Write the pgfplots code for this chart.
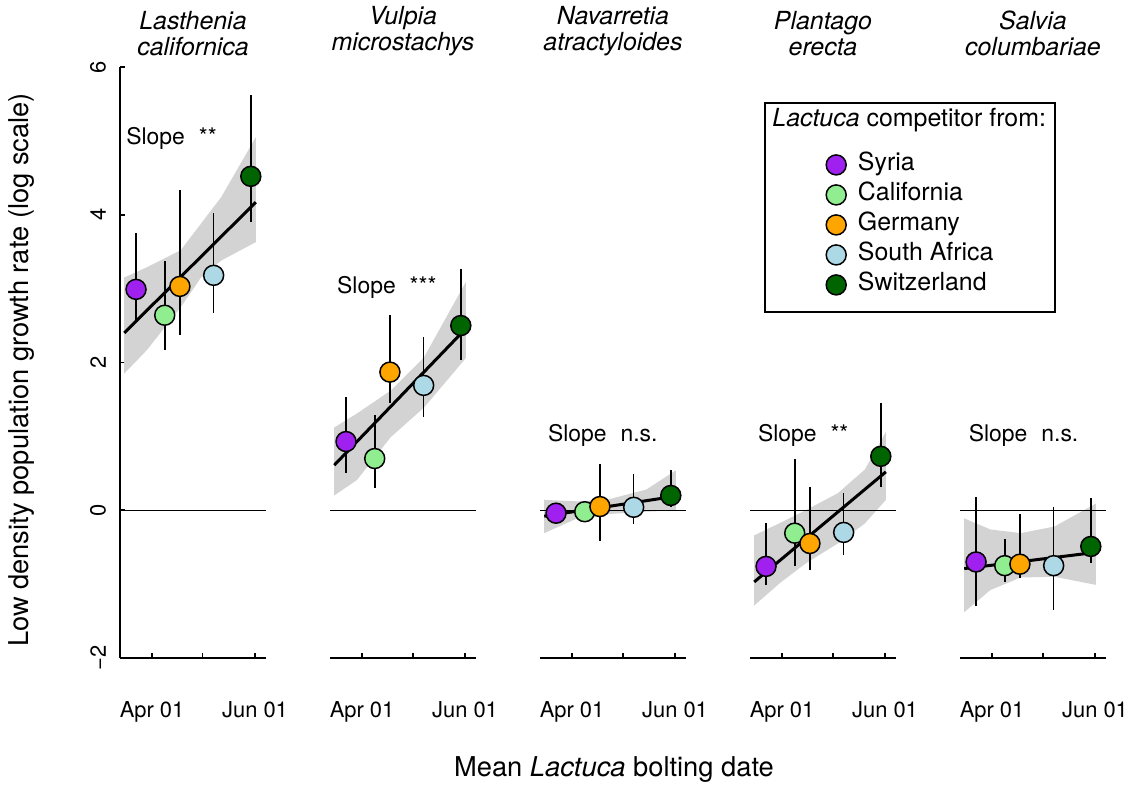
\documentclass[border=0pt]{standalone}
\usepackage{pgfplots}
\pgfplotsset{compat=1.18}
\usepackage{pgfplotstable}
\usepackage{fontspec}
\setmainfont{TeX Gyre Heros}

\definecolor{csy}{HTML}{A020F0}
\definecolor{cca}{HTML}{90EE90}
\definecolor{cge}{HTML}{FFA500}
\definecolor{csa}{HTML}{ADD8E6}
\definecolor{csw}{HTML}{006400}
\definecolor{bandgray}{HTML}{D3D3D3}

\tikzset{slope/.style={anchor=west, inner sep=0pt, font=\fontsize{11.5}{13}\selectfont}}

% x in day of year: Apr 01 = 91, May 01 = 121, Jun 01 = 152
\pgfplotsset{
  panel/.style={
    scale only axis, width=73bp, height=295.5bp,
    xmin=72, xmax=158.5, ymin=-2, ymax=6,
    axis x line*=bottom,
    axis line style={-, line width=1bp, black},
    xtick={91,121,152}, xticklabels={Apr 01,,Jun 01},
    tick align=inside, major tick length=2.5bp,
    tick style={line width=0.8bp, black},
    xticklabel style={font=\fontsize{11}{13}\selectfont},
    xticklabel shift=18bp,
    every axis title/.style={at={(0.5,1)}, anchor=south, yshift=1.8bp,
      align=center, font=\fontsize{12.5}{13.5}\selectfont\itshape},
  },
  noy/.style={axis y line=none},
  band/.style={fill=bandgray, draw=none, forget plot},
  zero/.style={black, line width=0.5bp, forget plot},
  fit/.style={black, line width=1.5bp, forget plot},
  ebars/.style={only marks, mark=none, forget plot,
    error bars/.cd, y dir=both, y explicit, error mark=none,
    error bar style={black, line width=0.8bp}},
  pts/.style={scatter, only marks, forget plot, scatter src=explicit symbolic,
    mark=*, mark size=5bp, mark options={draw=black, line width=0.75bp},
    scatter/classes={sy={fill=csy}, ca={fill=cca}, ge={fill=cge},
      sa={fill=csa}, sw={fill=csw}}},
  dot/.style={legend image code/.code={\draw[line width=0.75bp, fill=#1] (5bp,0bp) circle (5bp);}},
}

\pgfplotstableread{
x y ep em c
81.5 2.99 0.76 0.42 sy
98.5 2.64 0.74 0.47 ca
107.5 3.03 1.31 0.66 ge
127.5 3.18 0.84 0.51 sa
149.5 4.52 1.10 0.62 sw
}\ptA
\pgfplotstableread{
x y ep em c
81.5 0.93 0.60 0.42 sy
98.5 0.70 0.59 0.40 ca
107.5 1.87 0.77 0.42 ge
127.5 1.69 0.65 0.43 sa
149.5 2.50 0.77 0.47 sw
}\ptB
\pgfplotstableread{
x y ep em c
81.5 -0.04 0.08 0.08 sy
98.5 -0.02 0.08 0.08 ca
107.5 0.05 0.57 0.46 ge
127.5 0.04 0.45 0.23 sa
149.5 0.20 0.35 0.15 sw
}\ptC
\pgfplotstableread{
x y ep em c
81.5 -0.76 0.59 0.25 sy
98.5 -0.31 1.00 0.45 ca
107.5 -0.45 0.76 0.36 ge
127.5 -0.30 0.54 0.31 sa
149.5 0.73 0.72 0.42 sw
}\ptD
\pgfplotstableread{
x y ep em c
81.5 -0.70 0.88 0.59 sy
98.5 -0.75 0.36 0.22 ca
107.5 -0.73 0.68 0.19 ge
127.5 -0.75 0.79 0.60 sa
149.5 -0.49 0.65 0.23 sw
}\ptE

\begin{document}
\begin{tikzpicture}
\path[use as bounding box] (0,0) rectangle (568bp,393bp);

% Lasthenia californica
\begin{axis}[panel, at={(60bp,64bp)},
  axis y line*=left, ytick={-2,0,2,4,6}, yticklabels={−2,0,2,4,6},
  yticklabel style={rotate=90, anchor=south, font=\fontsize{11}{13}\selectfont},
  yticklabel shift=3.5bp,
  title={Lasthenia\\californica}]
  \addplot[band] coordinates {(74.5,3.15) (88,3.29) (108,3.52) (120,3.88) (132,4.24) (152.5,5.05)
    (152.5,3.63) (132,3.38) (120,3.15) (108,2.75) (88,2.17) (74.5,1.85)};
  \addplot[zero] coordinates {(72,0) (158.5,0)};
  \addplot[ebars] table[x=x, y=y, y error plus=ep, y error minus=em] {\ptA};
  \addplot[fit] coordinates {(74.5,2.40) (152.5,4.17)};
  \addplot[pts] table[x=x, y=y, meta=c] {\ptA};
  \node[slope] at (axis cs:75.5,5.03) {Slope\hspace{7bp}**};
\end{axis}

% Vulpia microstachys
\begin{axis}[panel, noy, at={(165bp,64bp)}, title={Vulpia\\microstachys}]
  \addplot[band] coordinates {(74.5,1.12) (88,1.31) (108,1.62) (127.7,2.07) (152.5,3.09)
    (152.5,2.06) (127.7,1.39) (108,0.99) (88,0.41) (74.5,0.20)};
  \addplot[zero] coordinates {(72,0) (158.5,0)};
  \addplot[ebars] table[x=x, y=y, y error plus=ep, y error minus=em] {\ptB};
  \addplot[fit] coordinates {(74.5,0.61) (152.5,2.46)};
  \addplot[pts] table[x=x, y=y, meta=c] {\ptB};
  \node[slope] at (axis cs:76,3.02) {Slope\hspace{7bp}***};
\end{axis}

% Navarretia atractyloides
\begin{axis}[panel, noy, at={(270bp,64bp)}, title={Navarretia\\atractyloides}]
  \addplot[band] coordinates {(74.5,0.14) (95,0.12) (113,0.15) (135,0.28) (152.5,0.54)
    (152.5,0.0) (135,-0.02) (113,-0.05) (95,-0.10) (74.5,-0.31)};
  \addplot[zero] coordinates {(72,0) (158.5,0)};
  \addplot[ebars] table[x=x, y=y, y error plus=ep, y error minus=em] {\ptC};
  \addplot[fit] coordinates {(74.5,-0.08) (152.5,0.19)};
  \addplot[pts] table[x=x, y=y, meta=c] {\ptC};
  \node[slope] at (axis cs:76.5,1.01) {Slope\hspace{7bp}n.s.};
\end{axis}

% Plantago erecta (holds the legend)
\begin{axis}[panel, noy, at={(375bp,64bp)}, title={Plantago\\erecta},
  legend style={at={(0.514,0.857)}, anchor=north west, draw=none, fill=none,
    inner sep=0pt, row sep=2bp, column sep=5bp,
    font=\fontsize{12.5}{14}\selectfont,
    nodes={inner sep=0.5bp, text height=9bp, text depth=3bp}},
  legend cell align=left]
  \addplot[band] coordinates {(74.5,-0.34) (90,-0.17) (105,0.0) (124,0.23) (140,0.55) (152.5,1.06)
    (152.5,0.14) (140,-0.18) (124,-0.45) (105,-0.72) (90,-0.98) (74.5,-1.29)};
  \addplot[zero] coordinates {(72,0) (158.5,0)};
  \addplot[ebars] table[x=x, y=y, y error plus=ep, y error minus=em] {\ptD};
  \addplot[fit] coordinates {(74.5,-0.97) (152.5,0.52)};
  \addplot[pts] table[x=x, y=y, meta=c] {\ptD};
  \node[slope] at (axis cs:76.5,1.01) {Slope\hspace{7bp}**};
  \addlegendimage{dot=csy}
  \addlegendentry{Syria}
  \addlegendimage{dot=cca}
  \addlegendentry{California}
  \addlegendimage{dot=cge}
  \addlegendentry{Germany}
  \addlegendimage{dot=csa}
  \addlegendentry{South Africa}
  \addlegendimage{dot=csw}
  \addlegendentry{Switzerland}
\end{axis}

% legend frame and title
\draw[line width=0.8bp] (382.5bp,237bp) rectangle (527.5bp,341.5bp);
\node[anchor=west, inner sep=0pt, font=\fontsize{12.5}{14}\selectfont]
  at (386bp,333bp) {\textit{Lactuca} competitor from:};

% Salvia columbariae
\begin{axis}[panel, noy, at={(480bp,64bp)}, title={Salvia\\columbariae}]
  \addplot[band] coordinates {(74.5,-0.11) (90,-0.26) (108,-0.31) (128,-0.22) (152.5,0.09)
    (152.5,-1.01) (128,-0.90) (108,-0.91) (90,-1.08) (74.5,-1.38)};
  \addplot[zero] coordinates {(72,0) (158.5,0)};
  \addplot[ebars] table[x=x, y=y, y error plus=ep, y error minus=em] {\ptE};
  \addplot[fit] coordinates {(74.5,-0.79) (152.5,-0.57)};
  \addplot[pts] table[x=x, y=y, meta=c] {\ptE};
  \node[slope] at (axis cs:77,1.01) {Slope\hspace{7bp}n.s.};
\end{axis}

% axis labels
\node[rotate=90, font=\fontsize{13.7}{16}\selectfont] at (11bp,208bp)
  {Low density population growth rate (log scale)};
\node[font=\fontsize{13.7}{16}\selectfont] at (307bp,8bp)
  {Mean \textit{Lactuca} bolting date};
\end{tikzpicture}
\end{document}
